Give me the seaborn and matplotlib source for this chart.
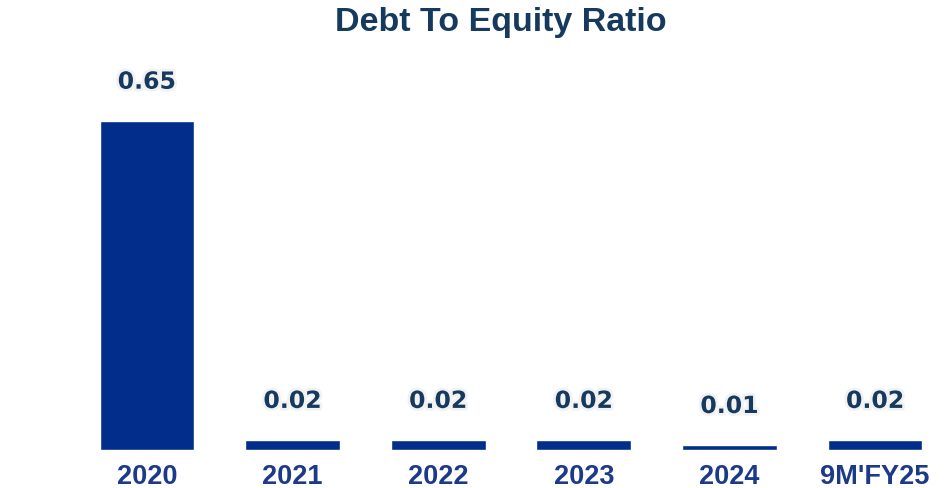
import matplotlib
matplotlib.use("Agg")
import matplotlib.pyplot as plt
import matplotlib.patheffects as pe
import pandas as pd
import seaborn as sns

# dados do grafico
periodos = ["2020", "2021", "2022", "2023", "2024", "9M'FY25"]
razao_divida = [0.65, 0.02, 0.02, 0.02, 0.01, 0.02]
rotulos = ["0.65", "0.02", "0.02", "0.02", "0.01", "0.02"]

COR_BARRA = "#022d8a"
COR_TITULO = "#163a5e"
COR_EIXO = "#1c3a8a"


def gerar_grafico(df):
    sns.set_style("white")
    fig = plt.figure(figsize=(9.53, 4.88), dpi=100)
    ax = fig.add_axes([0.0777, 0.078, 0.917, 0.840])

    sns.barplot(data=df, x="Periodo", y="Razao", color=COR_BARRA,
                width=0.65, saturation=1, ax=ax)

    ax.set_ylim(0, 0.809)
    ax.set_xlim(-0.5, len(df) - 0.5)
    ax.set_xlabel("")
    ax.set_ylabel("")
    ax.set_yticks([])
    ax.tick_params(axis="x", length=0, pad=10)
    for lbl in ax.get_xticklabels():
        lbl.set_fontfamily("Liberation Sans")
        lbl.set_fontweight("bold")
        lbl.set_fontsize(19.5)
        lbl.set_color(COR_EIXO)
    sns.despine(ax=ax, left=True, bottom=True)

    # rotulos de valor acima das barras
    for barra, texto in zip(ax.patches, df["Rotulo"]):
        ax.annotate(texto, (barra.get_x() + barra.get_width() / 2, barra.get_height()),
                    xytext=(0, 28), textcoords="offset points",
                    ha="center", va="center", fontsize=17, fontweight="bold",
                    family="DejaVu Sans", color=COR_TITULO,
                    path_effects=[pe.withStroke(linewidth=4, foreground="#f2f2f2")])

    fig.text(0.526, 0.953, "Debt To Equity Ratio", ha="center", va="center",
             fontsize=24.5, fontweight="bold", family="Liberation Sans", color=COR_TITULO)

    fig.savefig("out.png", dpi=100)


def main():
    df = pd.DataFrame({"Periodo": periodos, "Razao": razao_divida, "Rotulo": rotulos})
    gerar_grafico(df)


if __name__ == "__main__":
    main()
